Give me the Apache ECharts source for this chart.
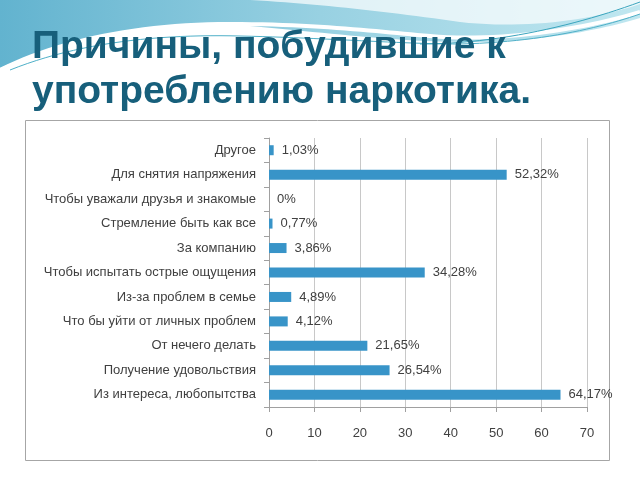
<!DOCTYPE html>
<html><head><meta charset="utf-8">
<script src="https://cdn.jsdelivr.net/npm/echarts@6/dist/echarts.min.js"></script>
<style>html,body{margin:0;padding:0;background:#fff}#c{width:640px;height:480px}</style>
</head><body><div id="c"></div>
<script>
var titleLines = ['Причины, побудившие к', 'употреблению наркотика.'];
var categories = ['Другое','Для снятия напряжения','Чтобы уважали друзья и знакомые','Стремление быть как все','За компанию','Чтобы испытать острые ощущения','Из-за проблем в семье','Что бы уйти от личных проблем','От нечего делать','Получение удовольствия','Из интереса, любопытства'];
var values = [1.03, 52.32, 0, 0.77, 3.86, 34.28, 4.89, 4.12, 21.65, 26.54, 64.17];
var axisMin = 0, axisMax = 70, axisStep = 10;

// decorative curve sampler (background ornament only)
function curve(start, segs) {
  var pts = [start.slice()], p = start;
  segs.forEach(function (s) {
    for (var i = 1; i <= 24; i++) {
      var t = i / 24, u = 1 - t;
      pts.push([
        u*u*u*p[0] + 3*u*u*t*s[0] + 3*u*t*t*s[2] + t*t*t*s[4],
        u*u*u*p[1] + 3*u*u*t*s[1] + 3*u*t*t*s[3] + t*t*t*s[5]
      ]);
    }
    p = [s[4], s[5]];
  });
  return pts;
}

var blueEdge = curve([640,18], [[600,30,540,42,470,42],[400,42,340,34,250,26],[160,20,70,38,0,68]]);
var bluePoly = [[0,0],[640,0]].concat(blueEdge);
var whiteTop = [[250,0]].concat(curve([250,0], [[320,4,390,12,460,22],[530,30,600,18,640,4]])).concat([[640,0]]);

var chart = echarts.init(document.getElementById('c'));
var font = '"Liberation Sans", Arial, sans-serif';
chart.setOption({
  animation: false,
  backgroundColor: '#ffffff',
  graphic: [
    { type: 'polygon', z: -10, shape: { points: bluePoly },
      style: { fill: new echarts.graphic.LinearGradient(0,0,1,0,[{offset:0,color:'#62B3CF'},{offset:0.5,color:'#98D1E2'},{offset:1,color:'#C0E7F0'}]) } },
    { type: 'polygon', z: -9, shape: { points: whiteTop }, style: { fill: 'rgba(255,255,255,0.7)' } },
    { type: 'polyline', z: -8, shape: { points: curve([0,70], [[60,40,140,24,230,24],[320,24,380,32,430,36],[500,42,580,30,640,12]]) },
      style: { fill: null, stroke: '#ffffff', lineWidth: 4 } },
    { type: 'polyline', z: -8, shape: { points: curve([10,70], [[80,42,160,34,240,36],[330,38,400,44,460,44],[540,42,600,28,640,14]]) },
      style: { fill: null, stroke: '#4FB0C8', lineWidth: 1 } },
    { type: 'polyline', z: -8, shape: { points: curve([420,44], [[500,44,580,24,640,2]]) },
      style: { fill: null, stroke: '#3AA5BE', lineWidth: 1 } },
    { type: 'rect', z: -5, shape: { x: 25.5, y: 120.5, width: 584, height: 340 },
      style: { fill: '#ffffff', stroke: '#A6A6A6', lineWidth: 1 } },
    { type: 'text', x: 32, y: 67,
      style: { text: titleLines[0], font: 'bold 39px ' + font, fill: '#175F7B', verticalAlign: 'bottom' } },
    { type: 'text', x: 32, y: 112,
      style: { text: titleLines[1], font: 'bold 39px ' + font, fill: '#175F7B', verticalAlign: 'bottom' } }
  ],
  grid: { left: 269, right: 53, top: 138, bottom: 73, containLabel: false },
  xAxis: {
    type: 'value', min: axisMin, max: axisMax, interval: axisStep,
    axisLine: { show: true, lineStyle: { color: '#A0A0A0' } },
    axisTick: { show: true, length: 5, lineStyle: { color: '#A0A0A0' } },
    axisLabel: { color: '#404040', fontSize: 13, fontFamily: font, margin: 20 },
    splitLine: { show: true, lineStyle: { color: '#C8C8C8' } }
  },
  yAxis: {
    type: 'category', data: categories, inverse: true,
    axisLine: { show: true, lineStyle: { color: '#A0A0A0' } },
    axisTick: { show: true, length: 5, lineStyle: { color: '#A0A0A0' } },
    axisLabel: { color: '#404040', fontSize: 13, fontFamily: font, margin: 13 }
  },
  series: [{
    type: 'bar', data: values, barWidth: 10,
    itemStyle: { color: '#3894C8' },
    label: { show: true, position: 'right', distance: 8, color: '#404040', fontSize: 13, fontFamily: font,
      formatter: function (p) { return p.value.toFixed(2).replace(/\.00$/, '').replace('.', ',') + '%'; } }
  }]
});
</script></body></html>
